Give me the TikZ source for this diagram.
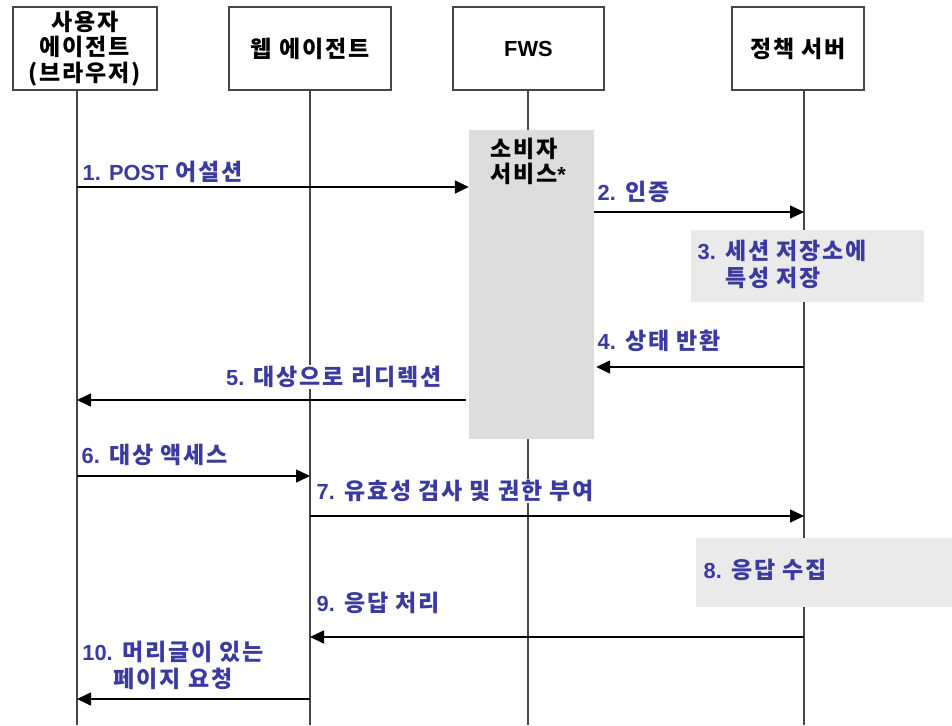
\documentclass[tikz,border=0pt]{standalone}
\usepackage{fontspec}
\setmainfont{Noto Sans CJK KR}[LetterSpace=8]
\newfontfamily\latf{Liberation Sans}[Scale=0.95]
\usetikzlibrary{arrows.meta}
\definecolor{lblblue}{RGB}{58,58,160}
\definecolor{boxgray}{RGB}{70,70,70}
\definecolor{fwsfill}{RGB}{221,221,221}
\definecolor{notefill}{RGB}{234,234,234}
\newcommand{\lt}[1]{{\latf\bfseries #1}}
\begin{document}
\begin{tikzpicture}[x=1pt,y=-1pt,
  hdr/.style={draw=boxgray, line width=1.6pt, minimum height=83pt, align=center,
    font=\fontsize{23}{25.5}\selectfont\bfseries, inner sep=0pt},
  life/.style={draw=boxgray, line width=1.4pt},
  msg/.style={draw=black, line width=1.6pt, -{Triangle[length=14pt,width=13pt]}},
  lbl/.style={font=\fontsize{23}{27}\selectfont\bfseries, text=lblblue, fill=white, inner sep=1.5pt},
  note/.style={fill=notefill, draw=none},
]
\useasboundingbox (0,0) rectangle (952,725);
\fill[white] (0,0) rectangle (952,725);

% header boxes
\node[hdr, minimum width=144pt] (ua) at (85,48.5) {사용자\\에이전트\\(브라우저)};
\node[hdr, minimum width=162pt] (wa) at (310,48.5) {웹 에이전트};
\node[hdr, minimum width=151pt] (fws) at (528.5,48.5) {\lt{FWS}};
\node[hdr, minimum width=132pt] (ps) at (798,48.5) {정책 서버};

% lifeline coordinates
\coordinate (uat) at (77,90);  \coordinate (uab) at (77,725);
\coordinate (wat) at (310,90); \coordinate (wab) at (310,725);
\coordinate (fwt) at (528,90); \coordinate (fwb) at (528,725);
\coordinate (pst) at (804,90); \coordinate (psb) at (804,725);
\draw[life] (uat) -- (uab);
\draw[life] (wat) -- (wab);
\draw[life] (fwt) -- (fwb);
\draw[life] (pst) -- (psb);

% activation / note boxes
\node[note, fill=fwsfill, minimum width=125pt, minimum height=309pt, inner sep=0pt] (cs) at (531.5,284.5) {};
\node[font=\fontsize{23}{25}\selectfont\bfseries, align=left, anchor=north west, inner sep=0pt] (cst) at (490,138) {소비자\\서비스\lt{*}};
\node[note, minimum width=233pt, minimum height=72pt, inner sep=0pt] (n3) at (807.5,266) {};
\node[note, minimum width=256pt, minimum height=69pt, inner sep=0pt] (n8) at (824,572.5) {};

% message coordinates
\coordinate (m1) at (77,187);
\coordinate (m2) at (804,212);
\coordinate (m4) at (804,367);
\coordinate (m5) at (77,400);
\coordinate (m6a) at (77,476);  \coordinate (m6b) at (310,476);
\coordinate (m7a) at (310,516); \coordinate (m7b) at (804,516);
\coordinate (m9a) at (804,637); \coordinate (m9b) at (310,637);
\coordinate (m10a) at (310,699); \coordinate (m10b) at (77,699);

% messages
\draw[msg] (m1) -- (cs.west |- m1);
\draw[msg] (cs.east |- m2) -- (m2);
\draw[msg] (m4) -- ([xshift=2pt]cs.east |- m4);
\draw[msg] ([xshift=-3pt]cs.west |- m5) -- (m5);
\draw[msg] (m6a) -- (m6b);
\draw[msg] (m7a) -- (m7b);
\draw[msg] (m9a) -- (m9b);
\draw[msg] (m10a) -- (m10b);

% labels
\node[lbl, anchor=west] (l1) at (81,172) {\lt{1. POST} 어설션};
\node[lbl, anchor=west] (l2) at (596,192) {\lt{2.} 인증};
\node[lbl, anchor=west, fill=none, align=left] (l3) at (696,264) {\lt{3.} 세션 저장소에\\\hphantom{\lt{3.} }특성 저장};
\node[lbl, anchor=west] (l4) at (596,341) {\lt{4.} 상태 반환};
\node[lbl, anchor=east] (l5) at (443,377) {\lt{5.} 대상으로 리디렉션};
\node[lbl, anchor=west] (l6) at (80,455) {\lt{6.} 대상 액세스};
\node[lbl, anchor=west] (l7) at (315,491) {\lt{7.} 유효성 검사 및 권한 부여};
\node[lbl, anchor=west, fill=none] (l8) at (702,570) {\lt{8.} 응답 수집};
\node[lbl, anchor=west] (l9) at (315,603) {\lt{9.} 응답 처리};
\node[lbl, align=center] (l10) at (173,665) {\lt{10.} 머리글이 있는\\페이지 요청};
\end{tikzpicture}
\end{document}
